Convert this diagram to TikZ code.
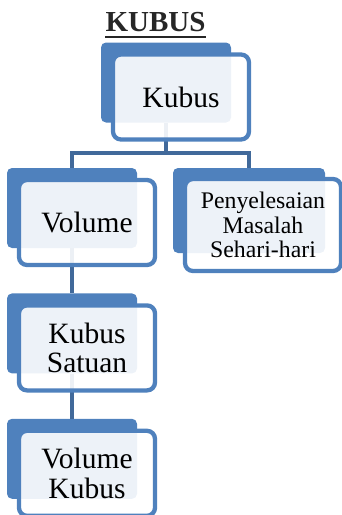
\documentclass[tikz,border=0pt]{standalone}
\usepackage{fontspec}
\setmainfont{Liberation Serif}
\usetikzlibrary{positioning}
\definecolor{kbblue}{HTML}{4F81BD}
\definecolor{kbline}{HTML}{41699A}
\begin{document}
\begin{tikzpicture}[x=1pt,y=-1pt,
    back/.style={fill=kbblue,rounded corners=5pt,inner sep=0pt,
        minimum width=130pt,minimum height=80pt},
    front/.style={draw=kbblue,line width=4.3pt,fill=white,fill opacity=.9,text opacity=1,
        rounded corners=8pt,minimum width=136pt,minimum height=85pt,align=center,
        font=\fontsize{29.5}{29.5}\selectfont},
    link/.style={draw=kbline,line width=4pt}]
    \useasboundingbox (0,0) rectangle (342,515);
    \node[font=\bfseries\fontsize{29}{30}\selectfont,text=black!85,inner xsep=0pt] (judul) at (155.5,22.5) {KUBUS};
    \draw[line width=2.5pt,black!85] ([yshift=-5pt]judul.base west) -- ([yshift=-5pt]judul.base east);
    \node[back] (kubus) at (166,82.5) {};
    \node[back] (volume) at (72,208) {};
    \node[back,minimum width=152pt,minimum height=85pt] (masalah) at (249,210.5) {};
    \node[back,below=45pt of volume] (satuan) {};
    \node[back,below=45pt of satuan] (volkubus) {};
    \draw[link] (kubus.south) -- ++(0,30) coordinate (cabang);
    \draw[link] (volume.north) |- (cabang) -| (masalah.north);
    \draw[link] (volume.south) -- (satuan.north);
    \draw[link] (satuan.south) -- (volkubus.north);
    \node[front] (kubusF) at ([shift={(15pt,-14.5pt)}]kubus.center) {Kubus};
    \node[front] (volumeF) at ([shift={(15pt,-14.5pt)}]volume.center) {Volume};
    \node[front,minimum width=156pt,minimum height=92pt,font=\fontsize{23.8}{24.5}\selectfont]
        (masalahF) at ([shift={(14pt,-14.5pt)}]masalah.center) {Penyelesaian\\Masalah\\Sehari-hari};
    \node[front] (satuanF) at ([shift={(15pt,-14.5pt)}]satuan.center) {Kubus\\Satuan};
    \node[front] (volkubusF) at ([shift={(15pt,-14.5pt)}]volkubus.center) {Volume\\Kubus};
\end{tikzpicture}
\end{document}
